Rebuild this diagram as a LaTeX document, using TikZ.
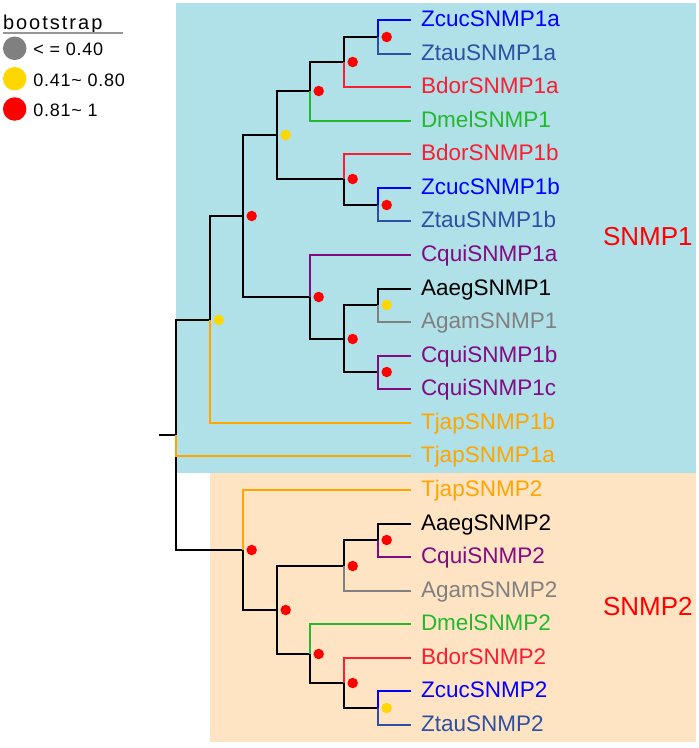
\documentclass[tikz,border=0pt]{standalone}
\usepackage{fontspec}
\setmainfont{Liberation Sans}
\newfontfamily\legfont[LetterSpace=10]{Liberation Sans}
\newfontfamily\numfont[LetterSpace=4]{Liberation Sans}
\definecolor{cZcuc}{RGB}{0,0,255}
\definecolor{cZtau}{RGB}{45,80,165}
\definecolor{cBdor}{RGB}{250,30,50}
\definecolor{cDmel}{RGB}{35,185,45}
\definecolor{cCqui}{RGB}{130,10,130}
\definecolor{cAgam}{RGB}{128,128,128}
\definecolor{cTjap}{RGB}{255,165,0}
\definecolor{cAaeg}{RGB}{0,0,0}
\definecolor{bgBlue}{RGB}{176,224,232}
\definecolor{bgOrange}{RGB}{255,228,196}
\definecolor{bsR}{RGB}{255,0,0}
\definecolor{bsY}{RGB}{255,215,0}
\definecolor{bsG}{RGB}{128,128,128}
\definecolor{ulGray}{RGB}{150,150,150}
\begin{document}
\begin{tikzpicture}[x=1pt,y=-1pt,line width=2pt,
  leaf/.style={anchor=west,inner xsep=9pt,inner ysep=0pt,text height=16pt,text depth=4pt,font=\fontsize{22.5}{27}\selectfont},
  bs/.style={circle,inner sep=0pt,minimum size=10.5pt,draw=none},
  bsred/.style={bs,fill=bsR},
  bsyel/.style={bs,fill=bsY},
  legdot/.style={circle,inner sep=0pt,minimum size=23.5pt,draw=none},
  legtxt/.style={anchor=base west,inner sep=0pt,font=\numfont\fontsize{18}{22}\selectfont},
  cladelab/.style={anchor=base west,inner sep=0pt,text=bsR,font=\fontsize{26}{30}\selectfont}]
\useasboundingbox (0,0) rectangle (699,748);
% backgrounds
\fill[bgBlue] (176,3) rectangle (696,473);
\fill[bgOrange] (210,473) rectangle (696,742);
% internal nodes (x levels: 176, 210, 243, 277, 310, 344, 378)
\coordinate (root) at (176,435);
\coordinate (rs) at (159,435);
\coordinate (A) at (210,320);
\coordinate (C) at (243,216);
\coordinate (D) at (277,135);
\coordinate (F) at (310,91);
\coordinate (H) at (344,62);
\coordinate (I) at (378,37);
\coordinate (G) at (344,179);
\coordinate (J) at (378,205);
\coordinate (E) at (310,297);
\coordinate (K) at (344,339);
\coordinate (L) at (378,305);
\coordinate (M) at (378,372);
\coordinate (B) at (243,550);
\coordinate (N) at (277,610);
\coordinate (O) at (344,566);
\coordinate (P) at (378,540);
\coordinate (Q) at (310,654);
\coordinate (R) at (344,683);
\coordinate (S) at (378,708);
% leaves
\node[leaf,text=cZcuc] (l0) at (411,20) {ZcucSNMP1a};
\node[leaf,text=cZtau] (l1) at (411,54) {ZtauSNMP1a};
\node[leaf,text=cBdor] (l2) at (411,87) {BdorSNMP1a};
\node[leaf,text=cDmel] (l3) at (411,121) {DmelSNMP1};
\node[leaf,text=cBdor] (l4) at (411,154) {BdorSNMP1b};
\node[leaf,text=cZcuc] (l5) at (411,188) {ZcucSNMP1b};
\node[leaf,text=cZtau] (l6) at (411,221) {ZtauSNMP1b};
\node[leaf,text=cCqui] (l7) at (411,255) {CquiSNMP1a};
\node[leaf,text=cAaeg] (l8) at (411,289) {AaegSNMP1};
\node[leaf,text=cAgam] (l9) at (411,322) {AgamSNMP1};
\node[leaf,text=cCqui] (l10) at (411,356) {CquiSNMP1b};
\node[leaf,text=cCqui] (l11) at (411,389) {CquiSNMP1c};
\node[leaf,text=cTjap] (l12) at (411,423) {TjapSNMP1b};
\node[leaf,text=cTjap] (l13) at (411,456) {TjapSNMP1a};
\node[leaf,text=cTjap] (l14) at (411,490) {TjapSNMP2};
\node[leaf,text=cAaeg] (l15) at (411,524) {AaegSNMP2};
\node[leaf,text=cCqui] (l16) at (411,557) {CquiSNMP2};
\node[leaf,text=cAgam] (l17) at (411,591) {AgamSNMP2};
\node[leaf,text=cDmel] (l18) at (411,624) {DmelSNMP2};
\node[leaf,text=cBdor] (l19) at (411,658) {BdorSNMP2};
\node[leaf,text=cZcuc] (l20) at (411,691) {ZcucSNMP2};
\node[leaf,text=cZtau] (l21) at (411,725) {ZtauSNMP2};
% internal edges
\draw (rs) -- (root);
\draw (root) |- (A);
\draw (root) |- (B);
\draw (A) |- (C);
\draw (C) |- (D);
\draw (C) |- (E);
\draw (D) |- (F);
\draw (D) |- (G);
\draw (F) |- (H);
\draw (H) |- (I);
\draw (G) |- (J);
\draw (E) |- (K);
\draw (K) |- (L);
\draw (K) |- (M);
\draw (B) |- (N);
\draw (N) |- (O);
\draw (N) |- (Q);
\draw (O) |- (P);
\draw (Q) |- (R);
\draw (R) |- (S);
% leaf edges
\draw[cZcuc] (I) |- (l0.west);
\draw[cZtau] (I) |- (l1.west);
\draw[cBdor] (H) |- (l2.west);
\draw[cDmel] (F) |- (l3.west);
\draw[cBdor] (G) |- (l4.west);
\draw[cZcuc] (J) |- (l5.west);
\draw[cZtau] (J) |- (l6.west);
\draw[cCqui] (E) |- (l7.west);
\draw[cAaeg] (L) |- (l8.west);
\draw[cAgam] (L) |- (l9.west);
\draw[cCqui] (M) |- (l10.west);
\draw[cCqui] (M) |- (l11.west);
\draw[cTjap] (A) |- (l12.west);
\draw[cTjap] (root) |- (l13.west);
\draw[cTjap] (B) |- (l14.west);
\draw[cAaeg] (P) |- (l15.west);
\draw[cCqui] (P) |- (l16.west);
\draw[cAgam] (O) |- (l17.west);
\draw[cDmel] (Q) |- (l18.west);
\draw[cBdor] (R) |- (l19.west);
\draw[cZcuc] (S) |- (l20.west);
\draw[cZtau] (S) |- (l21.west);
% bootstrap dots
\node[bsred] (dI) at ([xshift=8.7pt]I) {};
\node[bsred] (dH) at ([xshift=8.7pt]H) {};
\node[bsred] (dF) at ([xshift=8.7pt]F) {};
\node[bsyel] (dD) at ([xshift=8.7pt]D) {};
\node[bsred] (dG) at ([xshift=8.7pt]G) {};
\node[bsred] (dJ) at ([xshift=8.7pt]J) {};
\node[bsred] (dC) at ([xshift=8.7pt]C) {};
\node[bsred] (dE) at ([xshift=8.7pt]E) {};
\node[bsred] (dK) at ([xshift=8.7pt]K) {};
\node[bsyel] (dL) at ([xshift=8.7pt]L) {};
\node[bsred] (dM) at ([xshift=8.7pt]M) {};
\node[bsyel] (dA) at ([xshift=8.7pt]A) {};
\node[bsred] (dB) at ([xshift=8.7pt]B) {};
\node[bsred] (dN) at ([xshift=8.7pt]N) {};
\node[bsred] (dO) at ([xshift=8.7pt]O) {};
\node[bsred] (dP) at ([xshift=8.7pt]P) {};
\node[bsred] (dQ) at ([xshift=8.7pt]Q) {};
\node[bsred] (dR) at ([xshift=8.7pt]R) {};
\node[bsyel] (dS) at ([xshift=8.7pt]S) {};
% clade labels
\node[cladelab] (snmp1) at (602,245.3) {SNMP1};
\node[cladelab] (snmp2) at (602,615) {SNMP2};
% legend
\node[anchor=base west,inner sep=0pt,font=\legfont\fontsize{20}{24}\selectfont] (legtitle) at (2,29.3) {bootstrap};
\coordinate (ul1) at (3,33);
\coordinate (ul2) at (123,33);
\draw[ulGray,line width=2pt] (ul1) -- (ul2);
\node[legdot,fill=bsG] (lg1) at (14.7,48.3) {};
\node[legdot,fill=bsY] (lg2) at (14.7,78.7) {};
\node[legdot,fill=bsR] (lg3) at (14.7,109) {};
\node[legtxt] (lt1) at (32.5,55.5) {< = 0.40};
\node[legtxt] (lt2) at (32.5,86) {0.41\textasciitilde\ 0.80};
\node[legtxt] (lt3) at (32.5,116) {0.81\textasciitilde\ 1};
\end{tikzpicture}
\end{document}
